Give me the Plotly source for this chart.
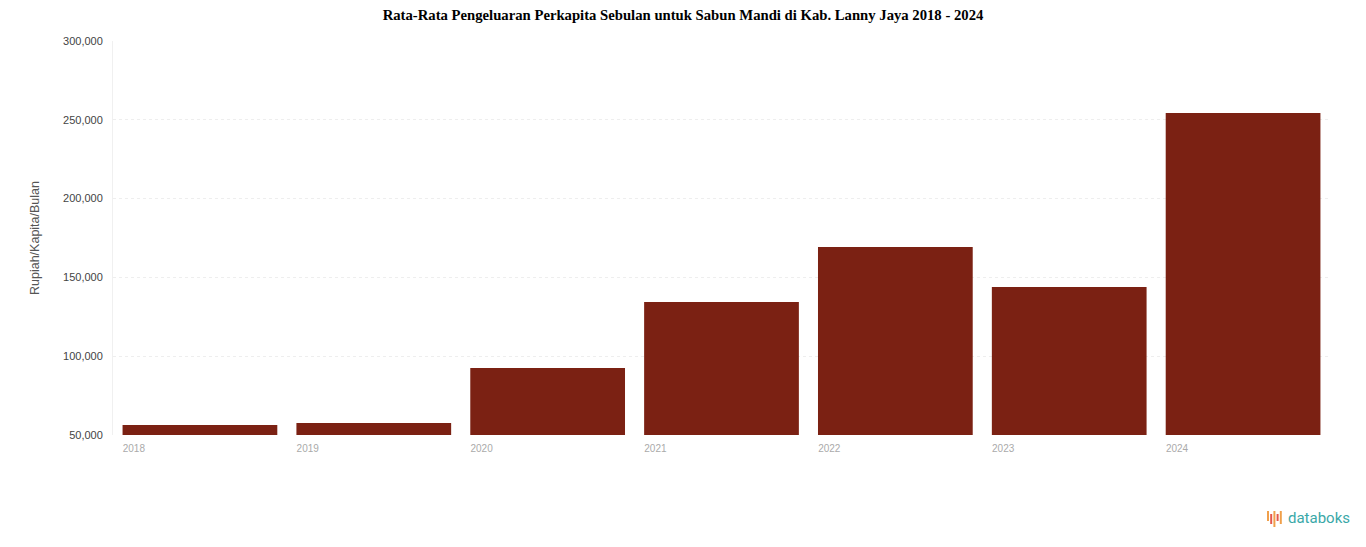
import plotly.graph_objects as go

years = ["2018", "2019", "2020", "2021", "2022", "2023", "2024"]
pengeluaran = [56300, 57600, 92500, 134400, 169300, 143900, 254300]
y_ticks = [50000, 100000, 150000, 200000, 250000, 300000]
y_ticklabels = ["50,000", "100,000", "150,000", "200,000", "250,000", "300,000"]

pos = list(range(len(years)))

# the page puts an 8px body margin around the figure, so the figure is
# a bit smaller than the window and the margins are shifted by 8px
W, H = 1350, 531
L, T, R, B = 105, 33, 28, 104
PW, PH = W - L - R, H - T - B

fig = go.Figure()
fig.add_trace(go.Bar(
    x=pos, y=pengeluaran,
    marker=dict(color="#7B2113", line=dict(width=0)),
    hovertemplate="%{y:,}<extra></extra>",
))

fig.update_layout(
    width=W, height=H,
    paper_bgcolor="white", plot_bgcolor="white",
    margin=dict(l=L, r=R, t=T, b=B),
    bargap=0.11,
    showlegend=False,
    title=dict(
        text="<b>Rata-Rata Pengeluaran Perkapita Sebulan untuk Sabun Mandi di Kab. Lanny Jaya 2018 - 2024</b>",
        x=0.5, y=1, xref="container", yref="container",
        xanchor="center", yanchor="top", pad=dict(t=2, b=0),
        font=dict(family="Liberation Serif", size=14.7, color="black"),
    ),
    font=dict(family="Liberation Sans", size=11, color="#444"),
)

# year labels sit under the left part of each bar
fig.update_xaxes(
    tickvals=[p - 0.38 for p in pos], ticktext=years,
    range=[-0.5, len(years) - 0.5],
    showgrid=False, zeroline=False, showline=False,
    ticks="", ticklabelstandoff=6, tickfont=dict(color="#aaa", size=10),
)
fig.update_yaxes(
    range=[50000, 300000],
    tickvals=y_ticks, ticktext=y_ticklabels,
    showgrid=True, gridcolor="#eeeeee", griddash="dot",
    zeroline=False, showline=True, linecolor="#f0f0f0",
    ticks="", ticklabelstandoff=7,
    tickfont=dict(color="#444", size=11),
    title=dict(text="Rupiah/Kapita/Bulan", standoff=20,
               font=dict(size=12.5, color="#555")),
)

# databoks logo
fig.add_annotation(
    text="databoks", xref="paper", yref="paper",
    x=(1352 - 8 - L) / PW, y=(435 - 518) / 394,
    xanchor="right", yanchor="middle",
    showarrow=False, font=dict(family="Roboto", size=15, color="#3aa8a8"),
)
icon_cols = ["#f0a04b", "#e4574b", "#f0a04b", "#e4574b", "#f0a04b"]
for i, c in enumerate(icon_cols):
    px_x = 1268 + i * 3.2 - 8
    top = 511 + (i % 2) * 3 - 8
    bot = 521 + (i % 3) * 3 - 8
    fig.add_shape(
        type="line", xref="paper", yref="paper",
        x0=(px_x - L) / PW, x1=(px_x - L) / PW,
        y0=(T + PH - top) / PH, y1=(T + PH - bot) / PH,
        line=dict(color=c, width=2),
    )

fig.write_html("out.html")
